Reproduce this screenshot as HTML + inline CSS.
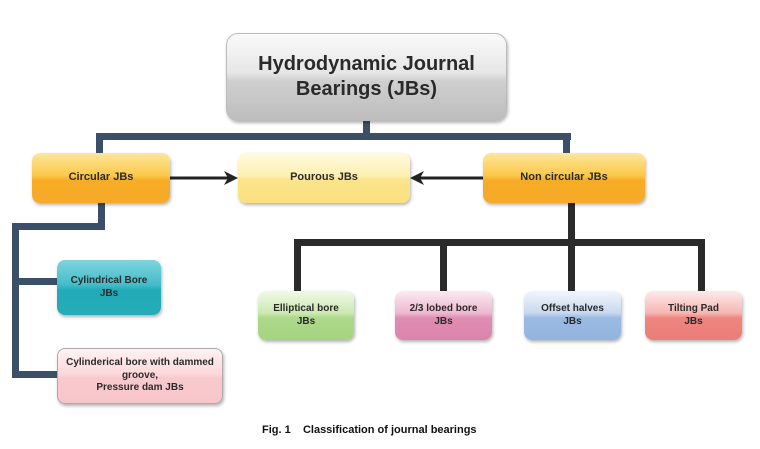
<!DOCTYPE html>
<html><head><style>
body{margin:0;width:760px;height:449px;background:#fff;position:relative;overflow:hidden;font-family:"Liberation Sans",Arial,sans-serif;}
.b{position:absolute;border-radius:8px;display:flex;align-items:center;justify-content:center;text-align:center;font-weight:bold;color:#2a2a2a;box-shadow:1px 2px 3px rgba(0,0,0,0.3);box-sizing:border-box;line-height:1.25;}
.l{position:absolute;}
</style></head><body>
<!-- connectors -->
<div class="l" style="left:363px;top:120px;width:7px;height:20px;background:#3b5068"></div>
<div class="l" style="left:96px;top:133px;width:475px;height:7px;background:#3b5068"></div>
<div class="l" style="left:96px;top:133px;width:7px;height:22px;background:#3b5068"></div>
<div class="l" style="left:563px;top:133px;width:7px;height:22px;background:#3b5068"></div>
<div class="l" style="left:98px;top:202px;width:7px;height:28px;background:#3b5068"></div>
<div class="l" style="left:12px;top:223px;width:93px;height:7px;background:#3b5068"></div>
<div class="l" style="left:12px;top:223px;width:7px;height:155px;background:#3b5068"></div>
<div class="l" style="left:12px;top:278px;width:47px;height:7px;background:#3b5068"></div>
<div class="l" style="left:12px;top:371px;width:47px;height:7px;background:#3b5068"></div>
<div class="l" style="left:568px;top:202px;width:7px;height:42px;background:#2b2b2b"></div>
<div class="l" style="left:294px;top:239px;width:411px;height:7px;background:#2b2b2b"></div>
<div class="l" style="left:294px;top:239px;width:7px;height:53px;background:#2b2b2b"></div>
<div class="l" style="left:440px;top:239px;width:7px;height:53px;background:#2b2b2b"></div>
<div class="l" style="left:568px;top:239px;width:7px;height:53px;background:#2b2b2b"></div>
<div class="l" style="left:698px;top:239px;width:7px;height:53px;background:#2b2b2b"></div>
<svg class="l" style="left:0;top:0" width="760" height="449">
<line x1="170" y1="178" x2="228" y2="178" stroke="#222" stroke-width="3"/>
<polygon points="238,178 224,171 228,178 224,185" fill="#222"/>
<line x1="483" y1="178" x2="420" y2="178" stroke="#222" stroke-width="3"/>
<polygon points="410,178 424,171 420,178 424,185" fill="#222"/>
</svg>
<!-- boxes -->
<div class="b" style="left:226px;top:33px;width:281px;height:88px;font-size:20px;background:linear-gradient(#fafafa,#e6e6e6 45%,#cfcfcf 55%,#bdbdbd);border:1px solid #bbb;border-radius:12px">Hydrodynamic Journal<br>Bearings (JBs)</div>
<div class="b" style="left:32px;top:153px;width:138px;height:50px;font-size:11px;background:linear-gradient(#fde79a,#fbc84a 45%,#f6ac24 55%,#f7a92a)">Circular JBs</div>
<div class="b" style="left:238px;top:153px;width:172px;height:50px;font-size:11px;background:linear-gradient(#fffbe0,#fdefb0 45%,#fbe48a 55%,#fbe07f)">Pourous JBs</div>
<div class="b" style="left:483px;top:153px;width:162px;height:50px;font-size:11px;background:linear-gradient(#fde79a,#fbc84a 45%,#f6ac24 55%,#f7a92a)">Non circular JBs</div>
<div class="b" style="left:57px;top:260px;width:104px;height:55px;font-size:10px;background:linear-gradient(#7fd4de,#44bcc8 45%,#22aab8 55%,#25acb8)">Cylindrical Bore<br>JBs</div>
<div class="b" style="left:57px;top:348px;width:166px;height:56px;font-size:10px;background:linear-gradient(#fff2f3,#fbd9dc 45%,#f8c9cd 55%,#f7c6ca);border:1px solid #aaa">Cylinderical bore with dammed<br>groove,<br>Pressure dam JBs</div>
<div class="b" style="left:258px;top:291px;width:96px;height:49px;font-size:10px;background:linear-gradient(#f0f9e8,#cde8b2 45%,#acd88a 55%,#a5d47f)">Elliptical bore<br>JBs</div>
<div class="b" style="left:395px;top:291px;width:97px;height:49px;font-size:10px;background:linear-gradient(#fbeaf1,#eeb8cf 45%,#df8db2 55%,#dc84ab)">2/3 lobed bore<br>JBs</div>
<div class="b" style="left:524px;top:291px;width:97px;height:49px;font-size:10px;background:linear-gradient(#f2f6fc,#c8d8ef 45%,#9bbae3 55%,#93b3df)">Offset halves<br>JBs</div>
<div class="b" style="left:645px;top:291px;width:97px;height:49px;font-size:10px;background:linear-gradient(#fdeaea,#f6b6b3 45%,#ee8580 55%,#ec7d78)">Tilting Pad<br>JBs</div>
<div class="l" style="left:262px;top:424px;font-size:11px;font-weight:bold;color:#111;white-space:pre">Fig. 1    Classification of journal bearings</div>
</body></html>
